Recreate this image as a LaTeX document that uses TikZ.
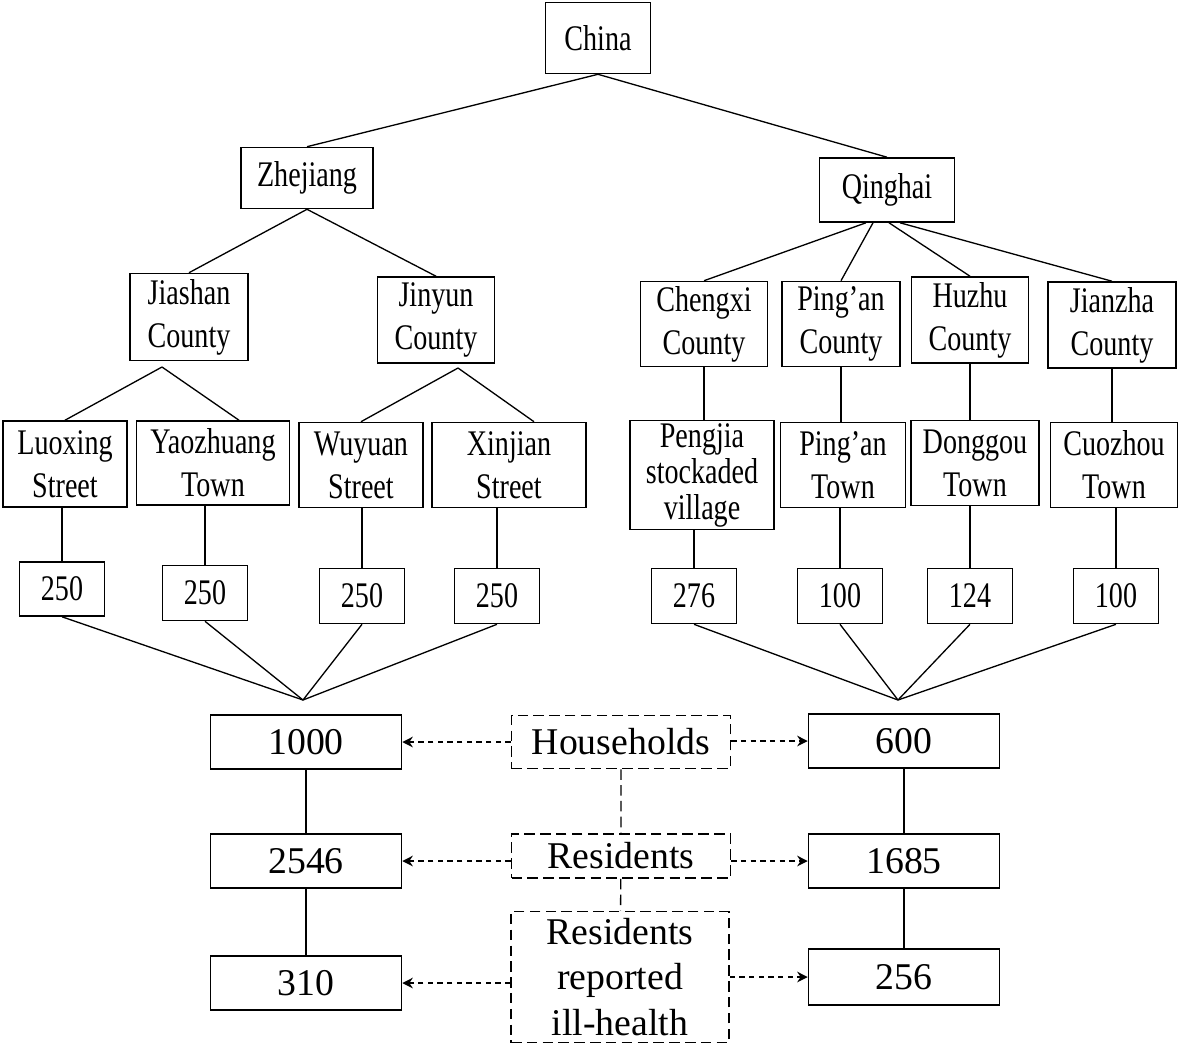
\documentclass[tikz,border=0pt]{standalone}
\usepackage{fontspec}
\setmainfont{Liberation Serif}
\newfontfamily\slimfont{Liberation Serif}[FakeStretch=0.78]
\usetikzlibrary{arrows.meta}

\tikzset{
  unit/.style={draw, line width=0.9pt, inner sep=0pt, align=center,
    font=\slimfont\fontsize{20.5}{24.5}\selectfont},
  dims/.style 2 args={minimum width=#1cm, minimum height=#2cm},
  total/.style={draw, line width=0.9pt, inner sep=0pt, align=center,
    dims={3.82}{1.08}, font=\fontsize{21.5}{26}\selectfont},
  measure/.style={total, dashed, dash pattern=on 6pt off 3pt},
  link/.style={line width=0.75pt},
  pointer/.style={line width=0.75pt, dash pattern=on 3pt off 2.5pt,
    -{Stealth[length=6pt, width=6pt]}},
}

\begin{document}
\begin{tikzpicture}[x=0.02cm, y=-0.02cm]
  \useasboundingbox (0,0) rectangle (1181,1046);

  % administrative levels
  \node[unit, dims={2.10}{1.42}] (china) at (598,38) {China};
  \node[unit, dims={2.64}{1.22}] (zhejiang) at (307,178) {Zhejiang};
  \node[unit, dims={2.70}{1.28}] (qinghai) at (887,190) {Qinghai};

  \node[unit, dims={2.36}{1.74}] (jiashan) at (189,317) {Jiashan\\County};
  \node[unit, dims={2.34}{1.72}] (jinyun) at (436,320) {Jinyun\\County};
  \node[unit, dims={2.54}{1.70}] (chengxi) at (704,324) {Chengxi\\County};
  \node[unit, dims={2.36}{1.70}] (pingancty) at (841,324) {Ping’an\\County};
  \node[unit, dims={2.34}{1.72}] (huzhu) at (970,320) {Huzhu\\County};
  \node[unit, dims={2.56}{1.72}] (jianzha) at (1112,325) {Jianzha\\County};

  \node[unit, dims={2.48}{1.72}] (luoxing) at (65,464) {Luoxing\\Street};
  \node[unit, dims={3.06}{1.68}] (yaozhuang) at (213,463) {Yaozhuang\\Town};
  \node[unit, dims={2.48}{1.70}] (wuyuan) at (361,465) {Wuyuan\\Street};
  \node[unit, dims={3.08}{1.70}] (xinjian) at (509,465) {Xinjian\\Street};
  \node[unit, dims={2.88}{2.18}, font=\slimfont\fontsize{20.5}{20.5}\selectfont]
    (pengjia) at (702,475) {Pengjia\\stockaded\\village};
  \node[unit, dims={2.50}{1.70}] (pingantown) at (843,465) {Ping’an\\Town};
  \node[unit, dims={2.56}{1.70}] (donggou) at (975,463) {Donggou\\Town};
  \node[unit, dims={2.54}{1.70}] (cuozhou) at (1114,465) {Cuozhou\\Town};

  % sampled households per site
  \node[unit, dims={1.70}{1.08}] (na) at (62,589) {250};
  \node[unit, dims={1.70}{1.10}] (nb) at (205,593) {250};
  \node[unit, dims={1.70}{1.10}] (nc) at (362,596) {250};
  \node[unit, dims={1.70}{1.10}] (nd) at (497,596) {250};
  \node[unit, dims={1.70}{1.10}] (ne) at (694,596) {276};
  \node[unit, dims={1.70}{1.10}] (nf) at (840,596) {100};
  \node[unit, dims={1.70}{1.10}] (ng) at (970,596) {124};
  \node[unit, dims={1.70}{1.10}] (nh) at (1116,596) {100};

  \coordinate (jsfork) at (162,367);
  \coordinate (jyfork) at (458,368);
  \coordinate (hubzj) at (303,700);
  \coordinate (hubqh) at (898,700);

  % totals
  \node[total] (hhzj) at (306,742) {1000};
  \node[total] (rszj) at (306,861) {2546};
  \node[total] (illzj) at (306,983) {310};
  \node[total] (hhqh) at (904,741) {600};
  \node[total] (rsqh) at (904,861) {1685};
  \node[total, dims={3.82}{1.12}] (illqh) at (904,977) {256};

  \node[measure, dims={4.38}{1.06}] (households) at (621,742) {Households};
  \node[measure, dims={4.38}{0.88}] (residents) at (621,856) {Residents};
  \node[measure, dims={4.36}{2.62}] (illhealth) at (620,977)
    {Residents\\reported\\ill-health};

  % tree
  \draw[link] (china.south) -- (zhejiang.north);
  \draw[link] (china.south) -- (qinghai.north);
  \draw[link] (zhejiang.south) -- (jiashan.north);
  \draw[link] (zhejiang.south) -- (jinyun.north);
  \draw[link] ([xshift=-0.42cm]qinghai.south) -- (chengxi.north);
  \draw[link] ([xshift=-0.28cm]qinghai.south) -- (pingancty.north);
  \draw[link] ([xshift=0.04cm]qinghai.south) -- (huzhu.north);
  \draw[link] ([xshift=0.26cm]qinghai.south) -- (jianzha.north);

  \draw[link] (jsfork) -- (luoxing.north);
  \draw[link] (jsfork) -- ([xshift=0.52cm]yaozhuang.north);
  \draw[link] (jyfork) -- (wuyuan.north);
  \draw[link] (jyfork) -- ([xshift=0.5cm]xinjian.north);
  \draw[link] (chengxi.south) -- (chengxi.south |- pengjia.north);
  \draw[link] (pingancty.south) -- (pingancty.south |- pingantown.north);
  \draw[link] (huzhu.south) -- (huzhu.south |- donggou.north);
  \draw[link] (jianzha.south) -- (jianzha.south |- cuozhou.north);

  \draw[link] (na.north |- luoxing.south) -- (na.north);
  \draw[link] (nb.north |- yaozhuang.south) -- (nb.north);
  \draw[link] (nc.north |- wuyuan.south) -- (nc.north);
  \draw[link] (nd.north |- xinjian.south) -- (nd.north);
  \draw[link] (ne.north |- pengjia.south) -- (ne.north);
  \draw[link] (nf.north |- pingantown.south) -- (nf.north);
  \draw[link] (ng.north |- donggou.south) -- (ng.north);
  \draw[link] (nh.north |- cuozhou.south) -- (nh.north);

  \foreach \n in {na,nb,nc,nd} \draw[link] (\n.south) -- (hubzj);
  \foreach \n in {ne,nf,ng,nh} \draw[link] (\n.south) -- (hubqh);

  % totals and their measures
  \draw[link] (hhzj) -- (rszj) -- (illzj);
  \draw[link] (hhqh) -- (rsqh) -- (illqh);
  \draw[link, dash pattern=on 6pt off 3pt] (households) -- (residents) -- (illhealth);

  \draw[pointer] (households.west |- hhzj) -- (hhzj.east);
  \draw[pointer] (households.east |- hhqh) -- (hhqh.west);
  \draw[pointer] (residents.west |- rszj) -- (rszj.east);
  \draw[pointer] (residents.east |- rsqh) -- (rsqh.west);
  \draw[pointer] (illhealth.west |- illzj) -- (illzj.east);
  \draw[pointer] (illhealth.east |- illqh) -- (illqh.west);
\end{tikzpicture}
\end{document}
